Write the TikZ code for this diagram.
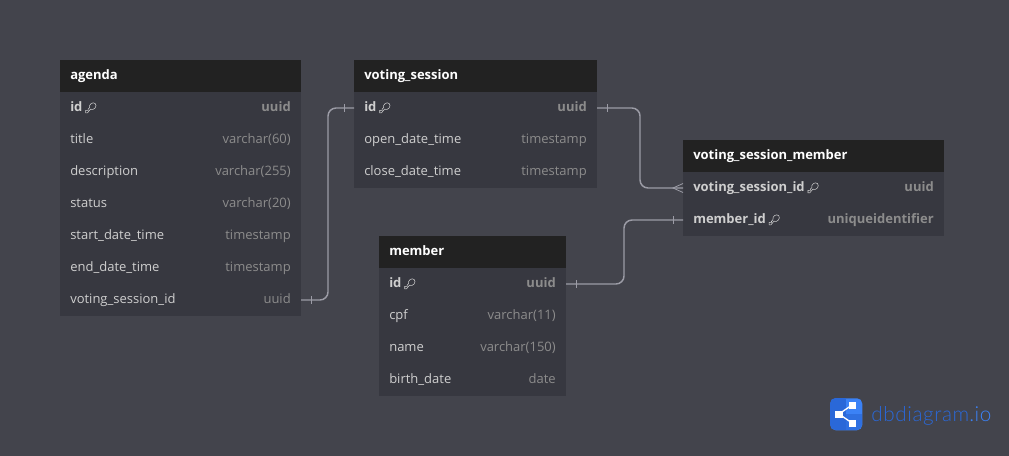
\documentclass[tikz,border=0pt]{standalone}
\usepackage{fontspec}
\setmainfont{Open Sans}
\newfontfamily\logofont[LetterSpace=3]{Lato Light}
\usetikzlibrary{calc}

\definecolor{pagecol}{HTML}{43444C}
\definecolor{headcol}{HTML}{222222}
\definecolor{bodycol}{HTML}{373840}
\definecolor{namecol}{HTML}{CFCFCF}
\definecolor{typecol}{HTML}{8C8C8C}
\definecolor{linkcol}{HTML}{9C9CA6}
\definecolor{logodark}{HTML}{2A68D8}
\definecolor{logolight}{HTML}{3B82F6}

\tikzset{
  headbox/.style={fill=headcol, inner sep=0pt, outer sep=0pt, minimum height=32*.75pt, minimum width=#1*.75pt, anchor=north west},
  rowbox/.style={fill=bodycol, inner sep=0pt, outer sep=0pt, minimum height=32*.75pt, minimum width=#1*.75pt, anchor=north west},
  headtext/.style={text=white, font=\fontsize{9.75pt}{12pt}\selectfont\bfseries, inner sep=0pt, anchor=base west},
  nametext/.style={text=namecol, font=\fontsize{9.75pt}{12pt}\selectfont, inner sep=0pt, anchor=base west},
  typetext/.style={text=typecol, font=\fontsize{9.75pt}{12pt}\selectfont, inner sep=0pt, anchor=base east},
  boldtext/.style={font=\fontsize{9.75pt}{12pt}\selectfont\bfseries},
  link/.style={draw=linkcol, line width=1.1pt, rounded corners=6pt},
  tick/.style={draw=linkcol, line width=.6pt},
  keyicon/.pic={
    \draw [namecol, line width=.4pt, scale=1.2] (0,4) -- (0,2) -- (2,2) -- (2,1) -- (3.2,-.2) .. controls (2.4,-3) and (6,-5.6) .. (8,-3.6) .. controls (9.8,-1.6) and (7,2.4) .. (4,1) -- (1.5,4) -- cycle;
  },
}

\begin{document}
\begin{tikzpicture}[x=.75pt, y=-.75pt]

\useasboundingbox [fill=pagecol] (0,0) rectangle (1009,456);

% agenda
\node [headbox=241] (agenda) at (60,60) {};
\node [headtext] (agendatitle) at ($(agenda.west)+(10,3.6)$) {agenda};
\node [rowbox=241] (agenda-id) at (60,92) {};
\node [nametext, boldtext] (agenda-idname) at ($(agenda-id.west)+(10,3.6)$) {id};
\node [typetext, boldtext] (agenda-idtype) at ($(agenda-id.east)+(-10,3.6)$) {uuid};
\pic at ($(agenda-idname.base east)+(3,-3.6)$) {keyicon};
\foreach \y/\colname/\coltype in {124/title/varchar(60), 156/description/varchar(255), 188/status/varchar(20), 220/start\_date\_time/timestamp, 252/end\_date\_time/timestamp} {
  \node [rowbox=241] (agenda-\y) at (60,\y) {};
  \node [nametext] (agenda-\y-name) at ($(agenda-\y.west)+(10,3.6)$) {\colname};
  \node [typetext] (agenda-\y-type) at ($(agenda-\y.east)+(-10,3.6)$) {\coltype};
}
\node [rowbox=241] (agenda-session) at (60,284) {};
\node [nametext] (agenda-sessionname) at ($(agenda-session.west)+(10,3.6)$) {voting\_session\_id};
\node [typetext] (agenda-sessiontype) at ($(agenda-session.east)+(-10,3.6)$) {uuid};

% voting_session
\node [headbox=243] (session) at (354,60) {};
\node [headtext] (sessiontitle) at ($(session.west)+(10,3.6)$) {voting\_session};
\node [rowbox=243] (session-id) at (354,92) {};
\node [nametext, boldtext] (session-idname) at ($(session-id.west)+(10,3.6)$) {id};
\node [typetext, boldtext] (session-idtype) at ($(session-id.east)+(-10,3.6)$) {uuid};
\pic at ($(session-idname.base east)+(3,-3.6)$) {keyicon};
\foreach \y/\colname/\coltype in {124/open\_date\_time/timestamp, 156/close\_date\_time/timestamp} {
  \node [rowbox=243] (session-\y) at (354,\y) {};
  \node [nametext] (session-\y-name) at ($(session-\y.west)+(10,3.6)$) {\colname};
  \node [typetext] (session-\y-type) at ($(session-\y.east)+(-10,3.6)$) {\coltype};
}

% voting_session_member
\node [headbox=261] (vsm) at (683,140) {};
\node [headtext] (vsmtitle) at ($(vsm.west)+(10,3.6)$) {voting\_session\_member};
\node [rowbox=261] (vsm-session) at (683,172) {};
\node [nametext, boldtext] (vsm-sessionname) at ($(vsm-session.west)+(10,3.6)$) {voting\_session\_id};
\node [typetext, boldtext] (vsm-sessiontype) at ($(vsm-session.east)+(-10,3.6)$) {uuid};
\pic at ($(vsm-sessionname.base east)+(3,-3.6)$) {keyicon};
\node [rowbox=261] (vsm-member) at (683,204) {};
\node [nametext, boldtext] (vsm-membername) at ($(vsm-member.west)+(10,3.6)$) {member\_id};
\node [typetext, boldtext] (vsm-membertype) at ($(vsm-member.east)+(-10,3.6)$) {uniqueidentifier};
\pic at ($(vsm-membername.base east)+(3,-3.6)$) {keyicon};

% member
\node [headbox=187] (member) at (379,236) {};
\node [headtext] (membertitle) at ($(member.west)+(10,3.6)$) {member};
\node [rowbox=187] (member-id) at (379,268) {};
\node [nametext, boldtext] (member-idname) at ($(member-id.west)+(10,3.6)$) {id};
\node [typetext, boldtext] (member-idtype) at ($(member-id.east)+(-10,3.6)$) {uuid};
\pic at ($(member-idname.base east)+(3,-3.6)$) {keyicon};
\foreach \y/\colname/\coltype in {300/cpf/varchar(11), 332/name/varchar(150), 364/birth\_date/date} {
  \node [rowbox=187] (member-\y) at (379,\y) {};
  \node [nametext] (member-\y-name) at ($(member-\y.west)+(10,3.6)$) {\colname};
  \node [typetext] (member-\y-type) at ($(member-\y.east)+(-10,3.6)$) {\coltype};
}

% connectors
\coordinate (bendA) at (328,200);
\coordinate (bendB) at (640,150);
\coordinate (bendC) at (624,250);
\draw [link] (agenda-session.east) -| (bendA) |- (session-id.west);
\draw [link] (session-id.east) -| (bendB) |- (vsm-session.west);
\draw [link] (member-id.east) -| (bendC) |- (vsm-member.west);

\draw [tick] ($(agenda-session.east)+(10,-4)$) -- ($(agenda-session.east)+(10,4)$);
\draw [tick] ($(session-id.west)+(-10,-4)$) -- ($(session-id.west)+(-10,4)$);
\draw [tick] ($(session-id.east)+(10,-4)$) -- ($(session-id.east)+(10,4)$);
\draw [tick] ($(member-id.east)+(10,-4)$) -- ($(member-id.east)+(10,4)$);
\draw [tick] ($(vsm-member.west)+(-10,-4)$) -- ($(vsm-member.west)+(-10,4)$);
\draw [tick] ($(vsm-session.west)+(0,-4.5)$) -- ($(vsm-session.west)+(-10,0)$) -- ($(vsm-session.west)+(0,4.5)$);

% logo
\node [fill=logolight, rounded corners=4pt, minimum size=32*.75pt, inner sep=0pt, anchor=north west] (logo) at (830,398) {};
\begin{scope}
\clip [rounded corners=4pt] (830,398) rectangle (862,430);
\fill [logodark] (830,398) rectangle (846,430);
\fill [logodark!70!logolight] (846,414) rectangle (862,430);
\end{scope}
\draw [white, line width=1pt] (839,414) -- (852,405) (839,414) -- (852,423);
\fill [white] (835,410.5) rectangle (842.5,417.5);
\fill [white] (849,401.5) rectangle (856,408.5);
\fill [white] (849,419.5) rectangle (856,426.5);
\node [inner sep=0pt, anchor=base west, font=\logofont\fontsize{15.5pt}{18pt}\selectfont] (logotext) at (871,421) {\textcolor{logodark}{dbdiagram}\textcolor{logolight}{.io}};

\end{tikzpicture}
\end{document}
